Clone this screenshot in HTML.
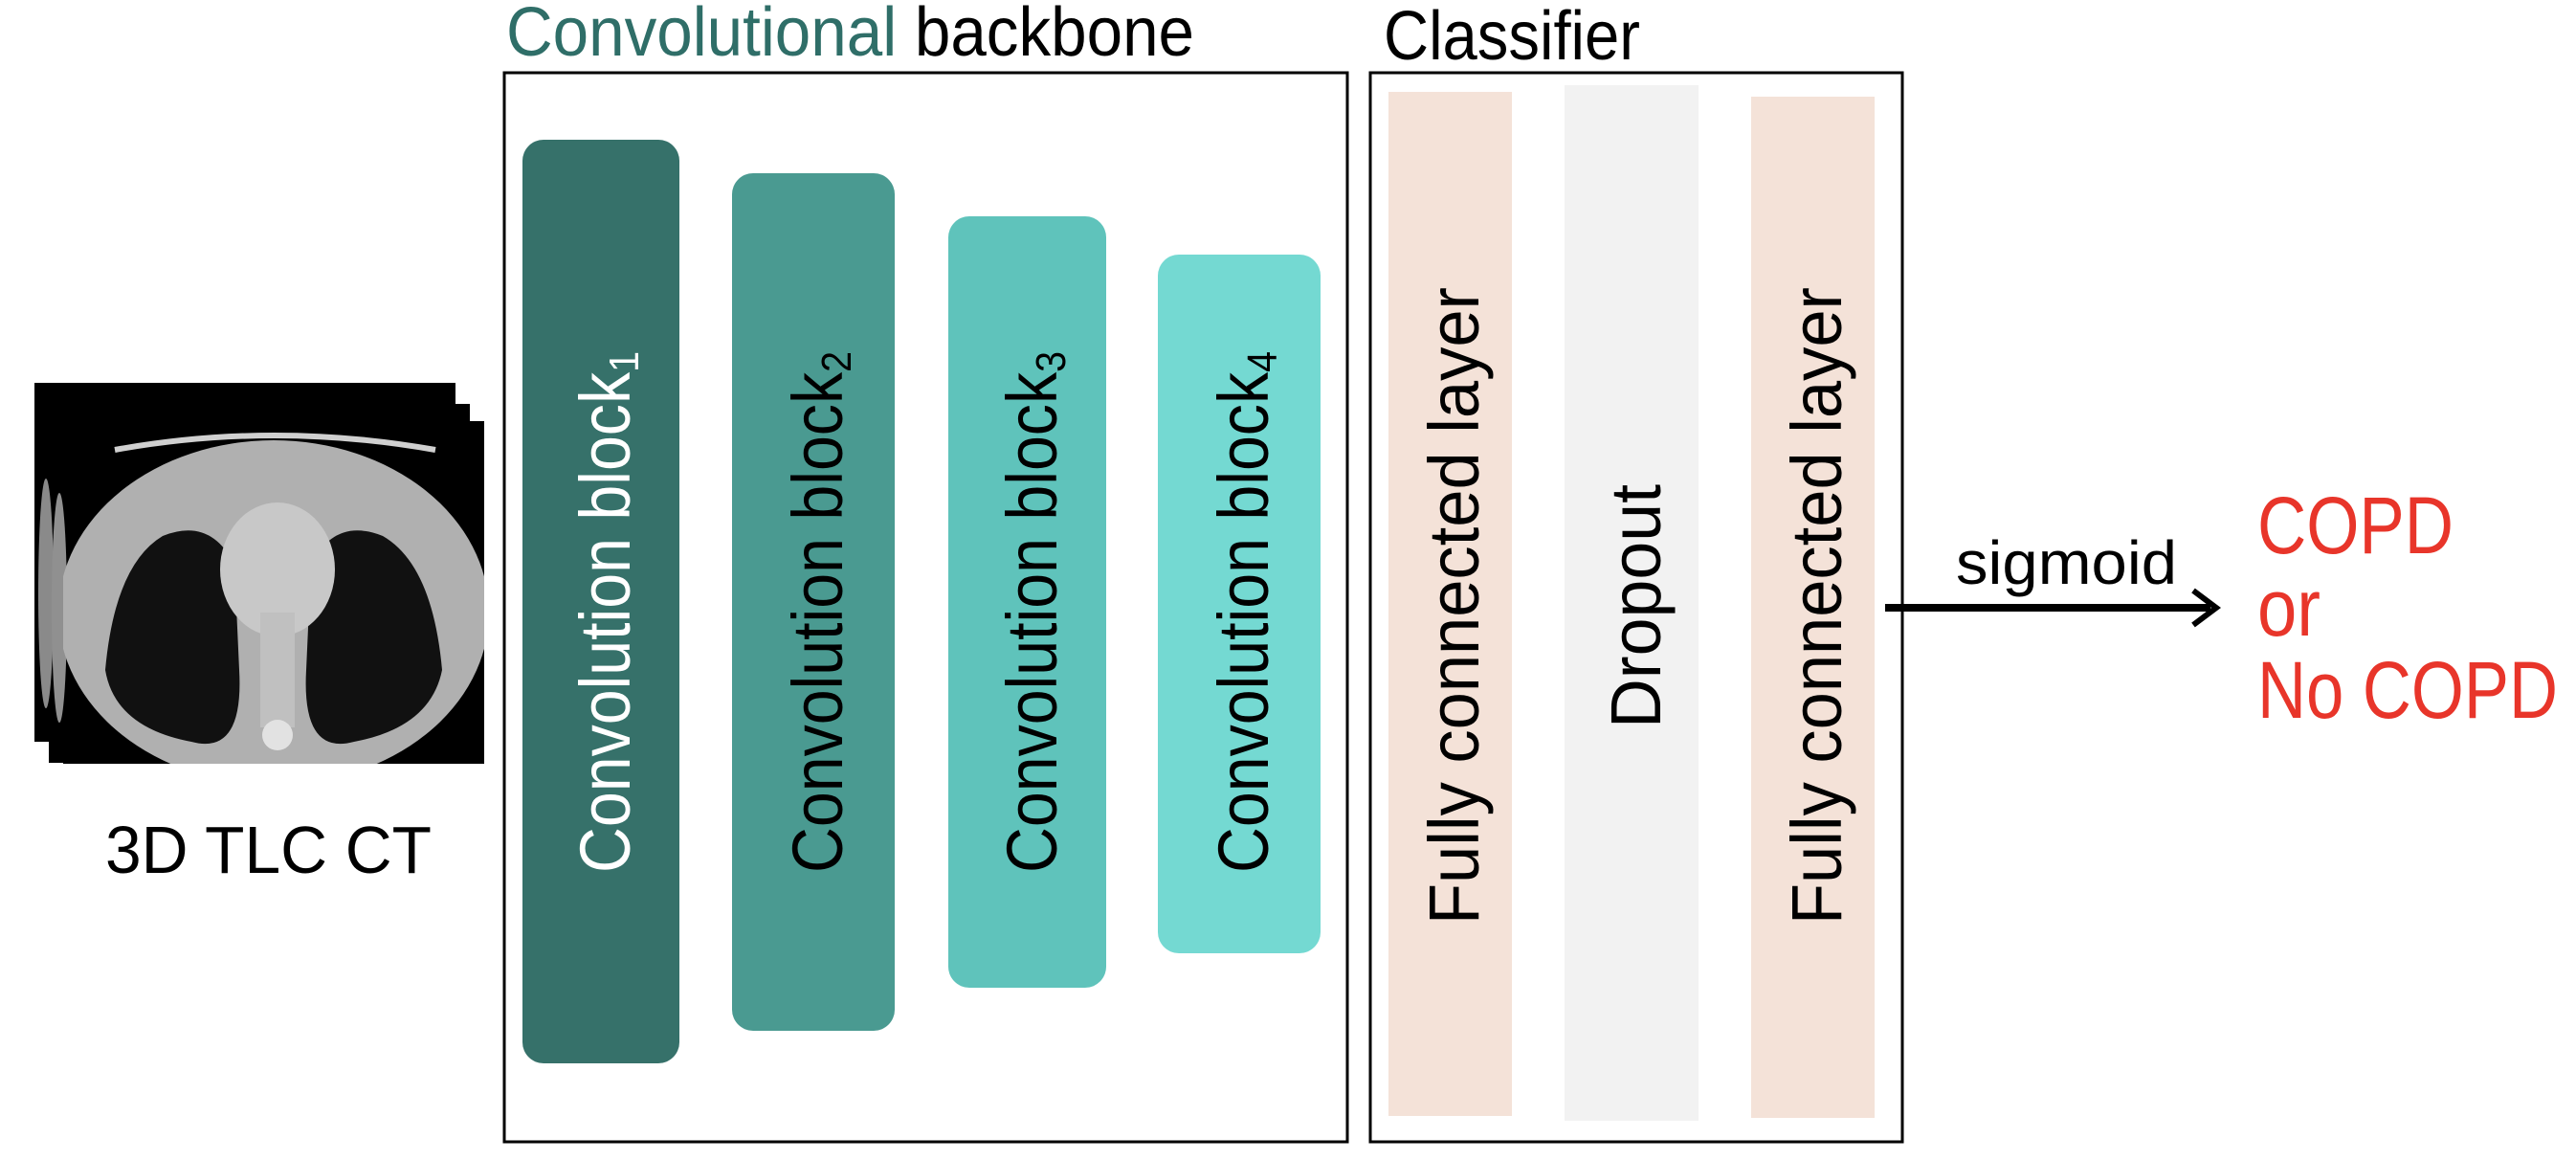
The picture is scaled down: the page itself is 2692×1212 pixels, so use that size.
<!DOCTYPE html>
<html><head><meta charset="utf-8"><style>
html,body{margin:0;padding:0;background:#fff;}
svg{display:block;}
text{font-family:"Liberation Sans",Arial,sans-serif;}
</style></head><body>
<svg width="2692" height="1212" viewBox="0 0 2692 1212" xmlns="http://www.w3.org/2000/svg">
<defs><clipPath id="fr"><rect x="66" y="440" width="440" height="358"/></clipPath></defs>
<!-- CT stack -->
<g>
  <rect x="36" y="400" width="440" height="375" fill="#000"/>
  <rect x="51" y="422" width="440" height="375" fill="#000"/>
  <rect x="66" y="440" width="440" height="358" fill="#000"/>
  <ellipse cx="48" cy="620" rx="8" ry="120" fill="#8a8a8a"/>
  <ellipse cx="62" cy="635" rx="8" ry="120" fill="#909090"/>
  <g clip-path="url(#fr)">
    <ellipse cx="286" cy="640" rx="225" ry="180" fill="#b0b0b0"/>
    <path d="M120 470 Q286 440 455 470" stroke="#d0d0d0" stroke-width="6" fill="none"/>
    <path d="M110 700 Q120 590 170 560 Q220 540 245 590 L250 700 Q255 790 200 775 Q120 760 110 700 Z" fill="#111"/>
    <path d="M462 700 Q452 590 400 560 Q350 540 325 590 L320 700 Q315 790 370 775 Q450 760 462 700 Z" fill="#111"/>
    <ellipse cx="290" cy="595" rx="60" ry="70" fill="#c8c8c8"/>
    <rect x="272" y="640" width="36" height="120" fill="#c0c0c0"/>
    <circle cx="290" cy="768" r="16" fill="#e2e2e2"/>
  </g>
</g>
<text x="110" y="912" font-size="70" textLength="341" lengthAdjust="spacingAndGlyphs" fill="#000">3D TLC CT</text>

<!-- Backbone -->
<text x="529" y="58" font-size="72" textLength="719" lengthAdjust="spacingAndGlyphs"><tspan fill="#2f6e68">Convolutional</tspan><tspan fill="#000"> backbone</tspan></text>
<rect x="527" y="76" width="881" height="1117" fill="none" stroke="#000" stroke-width="3"/>
<rect x="546" y="146" width="164" height="965" rx="22" fill="#36716a"/>
<rect x="765" y="181" width="170" height="896" rx="22" fill="#4a9a91"/>
<rect x="991" y="226" width="165" height="806" rx="22" fill="#5fc3bb"/>
<rect x="1210" y="266" width="170" height="730" rx="22" fill="#74d9d2"/>
<g font-size="74">
 <text transform="translate(658,912) rotate(-90)" fill="#fff" textLength="545" lengthAdjust="spacingAndGlyphs">Convolution block<tspan font-size="44" dy="9">1</tspan></text>
 <text transform="translate(880,912) rotate(-90)" fill="#000" textLength="545" lengthAdjust="spacingAndGlyphs">Convolution block<tspan font-size="44" dy="9">2</tspan></text>
 <text transform="translate(1104,912) rotate(-90)" fill="#000" textLength="545" lengthAdjust="spacingAndGlyphs">Convolution block<tspan font-size="44" dy="9">3</tspan></text>
 <text transform="translate(1325,912) rotate(-90)" fill="#000" textLength="545" lengthAdjust="spacingAndGlyphs">Convolution block<tspan font-size="44" dy="9">4</tspan></text>
</g>

<!-- Classifier -->
<text x="1446" y="62" font-size="72" textLength="268" lengthAdjust="spacingAndGlyphs" fill="#000">Classifier</text>
<rect x="1432" y="76" width="556" height="1117" fill="none" stroke="#000" stroke-width="3"/>
<rect x="1451" y="96" width="129" height="1070" fill="#f4e2d8"/>
<rect x="1635" y="89" width="140" height="1082" fill="#f2f2f2"/>
<rect x="1830" y="101" width="129" height="1067" fill="#f4e2d8"/>
<g font-size="74" fill="#000">
 <text transform="translate(1545,966) rotate(-90)" textLength="666" lengthAdjust="spacingAndGlyphs">Fully connected layer</text>
 <text transform="translate(1735,761) rotate(-90)" textLength="255" lengthAdjust="spacingAndGlyphs">Dropout</text>
 <text transform="translate(1924,966) rotate(-90)" textLength="666" lengthAdjust="spacingAndGlyphs">Fully connected layer</text>
</g>

<!-- Arrow -->
<line x1="1970" y1="635" x2="2310" y2="635" stroke="#000" stroke-width="8"/>
<path d="M2292 617 L2316 635 L2292 653" fill="none" stroke="#000" stroke-width="6"/>
<text x="2044" y="610" font-size="64" textLength="231" lengthAdjust="spacingAndGlyphs" fill="#000">sigmoid</text>

<g font-size="84" fill="#e8352a">
 <text x="2359" y="578" textLength="205" lengthAdjust="spacingAndGlyphs">COPD</text>
 <text x="2359" y="664" textLength="66" lengthAdjust="spacingAndGlyphs">or</text>
 <text x="2359" y="750" textLength="314" lengthAdjust="spacingAndGlyphs">No COPD</text>
</g>
</svg>
</body></html>
